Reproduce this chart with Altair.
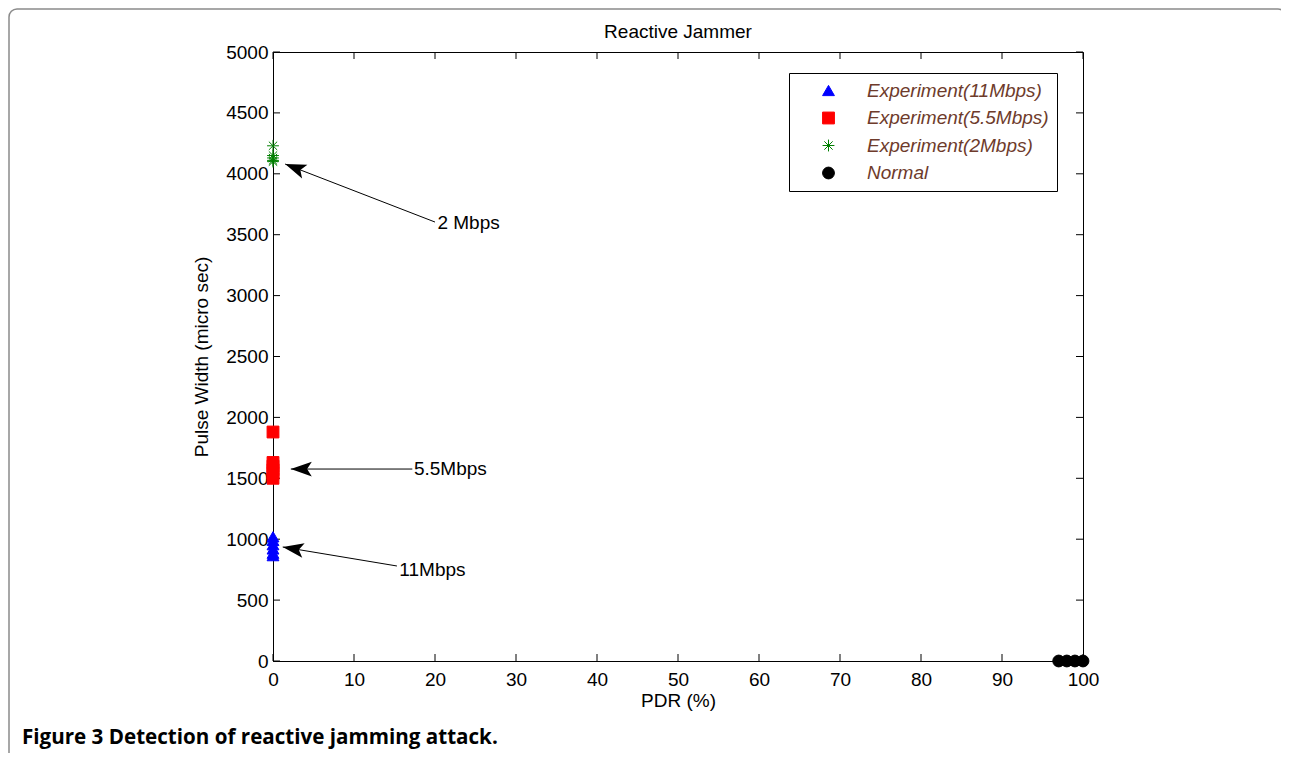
import altair as alt
import pandas as pd
import math

# ---- data ----
series_names = ["Experiment(11Mbps)", "Experiment(5.5Mbps)", "Experiment(2Mbps)", "Normal"]
series_colors = ["#0000FF", "#FF0000", "#008000", "#000000"]

pdr_11 = [0, 0, 0, 0, 0, 0]
pw_11 = [1020, 990, 955, 920, 885, 865]
pdr_55 = [0, 0, 0, 0, 0, 0]
pw_55 = [1880, 1630, 1600, 1570, 1540, 1500]
pdr_2 = [0, 0, 0, 0, 0]
pw_2 = [4230, 4150, 4130, 4110, 4100]
pdr_normal = [97, 98, 99, 100]
pw_normal = [0, 0, 0, 0]

x_ticks = [0, 10, 20, 30, 40, 50, 60, 70, 80, 90, 100]
y_ticks = [0, 500, 1000, 1500, 2000, 2500, 3000, 3500, 4000, 4500, 5000]

ann_labels = ["2 Mbps", "5.5Mbps", "11Mbps"]
ann_tip_x = [1.5, 2.2, 1.2]
ann_tip_y = [4080, 1576, 936]
ann_tail_x = [20.0, 17.2, 15.3]
ann_tail_y = [3604, 1576, 780]
ann_text_x = [20.3, 17.4, 15.6]
ann_text_y = [3596, 1576, 747]

chart_title = "Reactive Jammer"
caption_bold = "Figure 3"
caption_rest = "Detection of reactive jamming attack."

W, H = 810, 609
XMAX, YMAX = 100, 5000

# ---- tables ----
rows = []
for name, xs, ys in [
    (series_names[0], pdr_11, pw_11),
    (series_names[1], pdr_55, pw_55),
    (series_names[2], pdr_2, pw_2),
    (series_names[3], pdr_normal, pw_normal),
]:
    for xv, yv in zip(xs, ys):
        rows.append({"series": name, "pdr": xv, "pw": yv})
pts = pd.DataFrame(rows)

angles = []
for tx, ty, ex, ey in zip(ann_tip_x, ann_tip_y, ann_tail_x, ann_tail_y):
    dx = (ex - tx) * W / XMAX
    dy = -(ey - ty) * H / YMAX
    angles.append(math.degrees(math.atan2(dy, dx)) % 360)
ann = pd.DataFrame({
    "label": ann_labels, "tx": ann_tip_x, "ty": ann_tip_y,
    "ex": ann_tail_x, "ey": ann_tail_y,
    "lx": ann_text_x, "ly": ann_text_y, "angle": angles,
})
xt = pd.DataFrame({"v": x_ticks})
yt = pd.DataFrame({"v": y_ticks})
txt_df = pd.DataFrame({"title": [chart_title], "caption": [caption_bold + " " + caption_rest]})

FONT = "Liberation Sans"
FS = 19
star = "M-1,0L1,0M0,-1L0,1M-0.7,-0.7L0.7,0.7M-0.7,0.7L0.7,-0.7"
arrow_head = "M0,0L2,-0.7L1.55,0L2,0.7Z"

xscale = alt.Scale(domain=[0, XMAX], nice=False)
yscale = alt.Scale(domain=[0, YMAX], nice=False)

xaxis = alt.Axis(values=x_ticks, format="d", tickSize=0, labelPadding=9, title="PDR (%)",
                 titlePadding=2, grid=False, labelFlush=False)
yaxis = alt.Axis(values=y_ticks, format="d", tickSize=0, labelPadding=5,
                 title="Pulse Width (micro sec)", titlePadding=14, grid=False, labelFlush=False)

legend = alt.Legend(
    orient="none", legendX=516, legendY=21, strokeColor="black", fillColor="white",
    padding=8, symbolOffset=22, labelOffset=29, rowPadding=7.5,
    labelFont=FONT, labelFontSize=FS, labelFontStyle="italic", labelColor="#6E3B2B",
    symbolSize=140, symbolStrokeWidth=1, labelLimit=400,
)

enc_color = alt.Color("series:N", scale=alt.Scale(domain=series_names, range=series_colors),
                      legend=legend, title=None)
enc_stroke = alt.Stroke("series:N", scale=alt.Scale(domain=series_names, range=series_colors),
                        legend=legend, title=None)
enc_shape = alt.Shape("series:N", scale=alt.Scale(domain=series_names,
                                                  range=["triangle-up", "square", star, "circle"]),
                      legend=legend, title=None)

points = alt.Chart(pts).mark_point(filled=True, size=140, strokeWidth=1, opacity=1).encode(
    x=alt.X("pdr:Q", scale=xscale, axis=xaxis),
    y=alt.Y("pw:Q", scale=yscale, axis=yaxis),
    color=enc_color, stroke=enc_stroke, shape=enc_shape,
)

lines = alt.Chart(ann).mark_rule(color="black", strokeWidth=1).encode(
    x="tx:Q", y="ty:Q", x2="ex:Q", y2="ey:Q")
heads = alt.Chart(ann).mark_point(shape=arrow_head, filled=True, color="black", size=441,
                                  opacity=1).encode(
    x="tx:Q", y="ty:Q", angle=alt.Angle("angle:Q", scale=None))
texts = alt.Chart(ann).mark_text(align="left", baseline="middle", font=FONT, fontSize=FS,
                                 color="black").encode(x="lx:Q", y="ly:Q", text="label:N")

TL = 7
left_ticks = alt.Chart(yt).mark_rule(color="black").encode(
    y="v:Q", x=alt.value(0), x2=alt.value(TL))
right_ticks = alt.Chart(yt).mark_rule(color="black").encode(
    y="v:Q", x=alt.value(W - TL), x2=alt.value(W))
bottom_ticks = alt.Chart(xt).mark_rule(color="black").encode(
    x="v:Q", y=alt.value(H - TL), y2=alt.value(H))
top_ticks = alt.Chart(xt).mark_rule(color="black").encode(
    x="v:Q", y=alt.value(0), y2=alt.value(TL))

title_mark = alt.Chart(txt_df).mark_text(align="center", baseline="middle", font=FONT,
                                         fontSize=FS, color="black").encode(
    x=alt.value(W / 2), y=alt.value(-20), text="title:N")
caption = alt.Chart(txt_df).mark_text(align="left", baseline="middle", font="Open Sans",
                                      fontSize=20.6, fontWeight="bold", color="black").encode(
    x=alt.value(-251), y=alt.value(686), text="caption:N")

frame = alt.Chart(txt_df).mark_rect(fill=None, stroke="#8a8a8a", strokeWidth=1.5,
                                    cornerRadius=8).encode(
    x=alt.value(-264), y=alt.value(-43), x2=alt.value(1013), y2=alt.value(760))

chart = alt.layer(
    frame, left_ticks, right_ticks, bottom_ticks, top_ticks,
    points, lines, heads, texts, title_mark, caption,
).properties(
    width=W, height=H,
    background="white",
    autosize=alt.AutoSizeParams(type="none"),
    padding={"left": 265, "top": 44, "right": 198, "bottom": 92},
).configure_view(stroke="black", strokeWidth=1).configure_axis(
    domainColor="black", labelColor="black", titleColor="black",
    labelFont=FONT, titleFont=FONT, labelFontSize=FS, titleFontSize=FS,
    titleFontWeight="normal",
)

chart.save("out.html", embed_options={"renderer": "svg", "actions": False})
